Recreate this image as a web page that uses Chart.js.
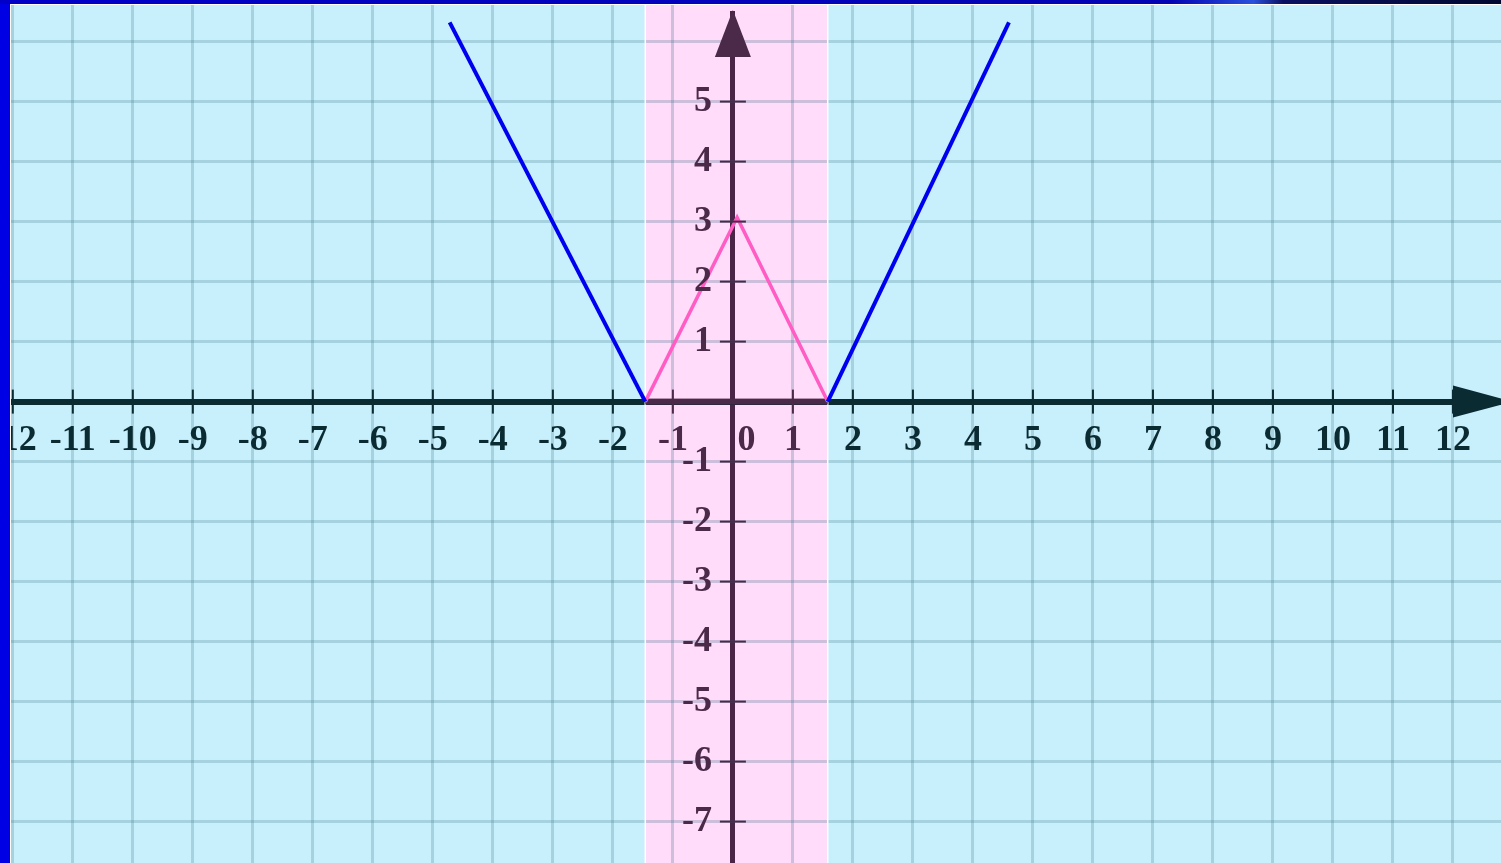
<!DOCTYPE html>
<html>
<head>
<meta charset="utf-8">
<script src="https://cdn.jsdelivr.net/npm/chart.js@4.4.1/dist/chart.umd.min.js"></script>
<style>
  html, body { margin: 0; padding: 0; overflow: hidden; }
  body {
    width: 1501px; height: 863px;
    background: linear-gradient(to right, #0000c8 0%, #0404b4 78%, #2a50dc 83.5%, #0a1060 85.5%, #000830 100%);
  }
  #strip { position: absolute; left: 0; top: 4px; width: 10px; height: 859px; background: #0000e4; }
  #wrap {
    position: absolute; left: 10px; top: 4px;
    border-left: 1px solid #ffffff; border-top: 1px solid #ffffff;
  }
  canvas { display: block; }
</style>
</head>
<body>
<div id="strip"></div>
<div id="wrap"><canvas id="grafica" width="1490" height="858"></canvas></div>
<script>
// límites de los ejes
const xMin = -12.03, xMax = 12.8;
const yMin = -7.69, yMax = 6.61;
// posición de las etiquetas del eje y (a la izquierda del eje)
const etiquetasYEn = -0.35;

// rectas azules y triángulo rosa
const azulIzqX = [-4.72, -1.46];
const azulIzqY = [6.32, 0];
const azulDerX = [1.58, 4.6];
const azulDerY = [0, 6.32];
const rosaX = [-1.46, 0.07, 1.58];
const rosaY = [0, 3.07, 0];

// franja rosa
const franjaX = [-1.46, 1.58];

// etiquetas que no se muestran en el eje y
const ocultarY = [0, 6];

const puntos = (xs, ys) => xs.map((x, i) => ({ x: x, y: ys[i] }));

const fuente = { family: 'Liberation Serif', size: 36, weight: 'bold', lineHeight: 1 };
const colorReja = 'rgba(70,128,140,0.27)';
const morado = '#4a2a48';
const oscuro = '#0b2b33';

const enFranja = v => v >= franjaX[0] && v <= franjaX[1];

// sin espacio reservado para los ejes
const sinMargen = (s, horizontal) => {
  if (horizontal) s.height = 0; else s.width = 0;
  s.paddingLeft = 0; s.paddingRight = 0; s.paddingTop = 0; s.paddingBottom = 0;
};

const decoracion = {
  id: 'decoracion',
  beforeDraw(chart) {
    const { ctx, scales } = chart;
    ctx.save();
    ctx.fillStyle = '#c8f0fc';
    ctx.fillRect(0, 0, chart.width, chart.height);
    const x1 = scales.x.getPixelForValue(franjaX[0]);
    const x2 = scales.x.getPixelForValue(franjaX[1]);
    ctx.fillStyle = '#ffffff';
    ctx.fillRect(x1, 0, x2 - x1, chart.height);
    ctx.restore();
  },
  beforeDatasetsDraw(chart) {
    const { ctx, scales } = chart;
    const x1 = scales.x.getPixelForValue(franjaX[0]);
    const x2 = scales.x.getPixelForValue(franjaX[1]);
    const y0 = scales.y.getPixelForValue(0);
    ctx.save();
    ctx.globalCompositeOperation = 'multiply';
    ctx.fillStyle = '#ffdcfa';
    ctx.fillRect(x1, 0, x2 - x1, chart.height);
    ctx.globalCompositeOperation = 'source-over';
    // bordes blancos de la franja
    ctx.strokeStyle = '#ffffff';
    ctx.lineWidth = 1.5;
    ctx.beginPath();
    ctx.moveTo(x1, 0); ctx.lineTo(x1, chart.height);
    ctx.moveTo(x2, 0); ctx.lineTo(x2, chart.height);
    ctx.stroke();
    // eje x morado dentro de la franja
    ctx.fillStyle = morado;
    ctx.fillRect(x1, y0 - 3, x2 - x1, 6);
    ctx.restore();
  },
  afterDatasetsDraw(chart) {
    const { ctx, chartArea: a, scales } = chart;
    const x0 = scales.x.getPixelForValue(0);
    const y0 = scales.y.getPixelForValue(0);
    ctx.save();
    ctx.lineWidth = 2;
    scales.x.ticks.forEach(t => {
      if (t.value === 0) return;
      const px = scales.x.getPixelForValue(t.value);
      ctx.strokeStyle = enFranja(t.value) ? morado : oscuro;
      ctx.beginPath();
      ctx.moveTo(px, y0 - 12); ctx.lineTo(px, y0 + 12);
      ctx.stroke();
    });
    ctx.strokeStyle = morado;
    scales.y.ticks.forEach(t => {
      if (ocultarY.includes(t.value)) return;
      const py = scales.y.getPixelForValue(t.value);
      ctx.beginPath();
      ctx.moveTo(x0 - 13, py); ctx.lineTo(x0 + 13, py);
      ctx.stroke();
    });
    // flecha del eje y
    ctx.fillStyle = '#ffdcfa';
    ctx.fillRect(x0 - 4, a.top, 8, 6);
    ctx.fillStyle = morado;
    ctx.beginPath();
    ctx.moveTo(x0, a.top + 5);
    ctx.lineTo(x0 + 18, a.top + 52);
    ctx.lineTo(x0 - 18, a.top + 52);
    ctx.closePath();
    ctx.fill();
    // flecha del eje x
    const xb = scales.x.getPixelForValue(12);
    ctx.fillStyle = oscuro;
    ctx.beginPath();
    ctx.moveTo(xb, y0 - 16);
    ctx.lineTo(a.right + 12, y0);
    ctx.lineTo(xb, y0 + 16);
    ctx.closePath();
    ctx.fill();
    ctx.restore();
  }
};

const ctx = document.getElementById('grafica').getContext('2d');
const myChart = new Chart(ctx, {
  type: 'scatter',
  data: {
    datasets: [
      { data: puntos(azulIzqX, azulIzqY), showLine: true, borderColor: '#0000f0', borderWidth: 4, pointRadius: 0 },
      { data: puntos(azulDerX, azulDerY), showLine: true, borderColor: '#0000f0', borderWidth: 4, pointRadius: 0 },
      { data: puntos(rosaX, rosaY), showLine: true, borderColor: '#ff5cc4', borderWidth: 3.5, pointRadius: 0 }
    ]
  },
  options: {
    responsive: false,
    animation: false,
    devicePixelRatio: 1,
    layout: { padding: 0 },
    plugins: { legend: { display: false }, tooltip: { enabled: false } },
    scales: {
      x: {
        type: 'linear',
        min: xMin,
        max: xMax,
        position: { y: 0 },
        afterFit: s => sinMargen(s, true),
        grid: {
          // la línea en x = 0 hace de eje y
          color: c => c.tick && c.tick.value === 0 ? morado : colorReja,
          lineWidth: c => c.tick && c.tick.value === 0 ? 5 : 3,
          drawTicks: false
        },
        border: { display: true, color: oscuro, width: 6 },
        ticks: {
          stepSize: 1,
          includeBounds: false,
          autoSkip: false,
          maxRotation: 0,
          padding: 21,
          font: fuente,
          color: c => enFranja(c.tick.value) ? morado : oscuro,
          callback: v => v === 0 ? '   0' : String(v),
          z: 1
        }
      },
      y: {
        type: 'linear',
        min: yMin,
        max: yMax,
        position: { x: etiquetasYEn },
        afterFit: s => sinMargen(s, false),
        grid: { color: colorReja, lineWidth: 3, drawTicks: false },
        border: { display: false },
        ticks: {
          stepSize: 1,
          includeBounds: false,
          autoSkip: false,
          font: fuente,
          color: morado,
          callback: v => ocultarY.includes(v) ? '' : String(v),
          z: 1
        }
      }
    }
  },
  plugins: [decoracion]
});
</script>
</body>
</html>
